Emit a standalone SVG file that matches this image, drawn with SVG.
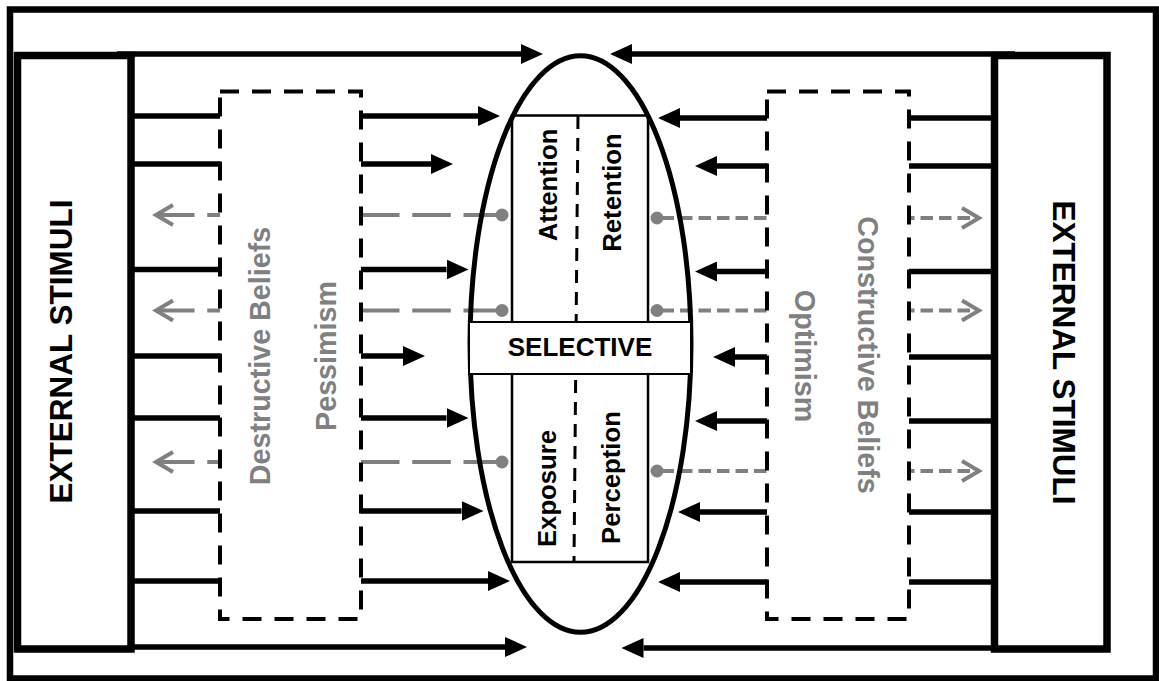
<svg xmlns="http://www.w3.org/2000/svg" width="1159" height="681" viewBox="0 0 1159 681">
  <style>
    .frame { fill: none; stroke: #000; stroke-width: 6.5; }
    .src { fill: #fff; stroke: #000; stroke-width: 7.5; }
    .belief { fill: #fff; stroke: #000; stroke-width: 4; stroke-dasharray: 19 13; }
    .stim { fill: none; stroke: #000; stroke-width: 5.5; marker-end: url(#head); }
    .back { fill: none; stroke: #808080; stroke-width: 4; marker-start: url(#dot); marker-end: url(#chev); }
    .back.l { stroke-dasharray: 38.5 12.75; }
    .back.r { stroke-dasharray: 12.5 6; stroke-dashoffset: 14; }
    .thin { fill: none; stroke: #000; stroke-width: 2.5; }
    .divider { fill: none; stroke: #000; stroke-width: 3; stroke-dasharray: 13 9; }
    .t { font-family: "Liberation Sans", Arial, sans-serif; font-weight: bold; text-anchor: middle; }
    .big { font-size: 31.5px; fill: #000; }
    .grey { font-size: 28.7px; fill: #808080; }
    .mid { font-size: 25.7px; fill: #000; }
  </style>
  <defs>
    <marker id="head" markerUnits="userSpaceOnUse" viewBox="0 -10 22 20" markerWidth="22" markerHeight="20" refX="0" refY="0" orient="auto">
      <path d="M0,-10 L22,0 L0,10 z" fill="#000"/>
    </marker>
    <marker id="chev" markerUnits="userSpaceOnUse" viewBox="-24 -14 30 28" markerWidth="30" markerHeight="28" refX="0" refY="0" orient="auto">
      <path d="M-17,-10 L0,0 L-17,10" fill="none" stroke="#808080" stroke-width="4"/>
    </marker>
    <marker id="dot" markerUnits="userSpaceOnUse" viewBox="-8 -8 16 16" markerWidth="16" markerHeight="16" refX="0" refY="0" orient="auto">
      <circle r="6.5" fill="#808080"/>
    </marker>
  </defs>

  <rect width="1159" height="681" fill="#fff"/>
  <rect class="frame" x="10" y="9.5" width="1146" height="669"/>

  <g id="connectors">
    <!-- stimuli arriving from the left -->
    <path class="stim" d="M117,54 H521"/>
    <path class="stim" d="M131,116 H478"/>
    <path class="stim" d="M131,164 H431"/>
    <path class="stim" d="M131,269.5 H446.5"/>
    <path class="stim" d="M131,356 H403"/>
    <path class="stim" d="M131,418 H446.5"/>
    <path class="stim" d="M131,511 H461.5"/>
    <path class="stim" d="M131,581 H488"/>
    <path class="stim" d="M131,647 H505"/>
    <!-- stimuli arriving from the right -->
    <path class="stim" d="M1015,54 H632"/>
    <path class="stim" d="M994.5,118 H680"/>
    <path class="stim" d="M994.5,166 H717"/>
    <path class="stim" d="M994.5,271.5 H717"/>
    <path class="stim" d="M994.5,357 H735"/>
    <path class="stim" d="M994.5,421 H717"/>
    <path class="stim" d="M994.5,512 H700"/>
    <path class="stim" d="M994.5,582 H680"/>
    <path class="stim" d="M994.5,648 H643.5"/>
    <!-- feedback toward the left -->
    <path class="back l" d="M502,215 H156"/>
    <path class="back l" d="M502,310.5 H156"/>
    <path class="back l" d="M502,462 H156"/>
    <!-- feedback toward the right -->
    <path class="back r" d="M657,218 H979"/>
    <path class="back r" d="M657,310.5 H979"/>
    <path class="back r" d="M657,471 H979"/>
  </g>

  <g id="stimuli-left">
    <rect class="src" x="17.5" y="55.5" width="113.5" height="593.5"/>
    <text class="t big" transform="translate(71.5,351.5) rotate(-90)">EXTERNAL STIMULI</text>
  </g>

  <g id="stimuli-right">
    <rect class="src" x="994.5" y="55.5" width="112.5" height="593.5"/>
    <text class="t big" transform="translate(1053,352.5) rotate(90)">EXTERNAL STIMULI</text>
  </g>

  <g id="destructive-beliefs">
    <rect class="belief" x="220" y="91.5" width="141" height="527.5"/>
    <text class="t grey" transform="translate(269.5,356) rotate(-90)">Destructive Beliefs</text>
    <text class="t grey" transform="translate(335.5,356) rotate(-90)">Pessimism</text>
  </g>

  <g id="constructive-beliefs">
    <rect class="belief" x="767" y="91.5" width="142" height="527.5"/>
    <text class="t grey" transform="translate(858,355) rotate(90)">Constructive Beliefs</text>
    <text class="t grey" transform="translate(794.5,356) rotate(90)">Optimism</text>
  </g>

  <g id="selective">
    <ellipse cx="580.5" cy="344" rx="110.5" ry="288.3" fill="none" stroke="#000" stroke-width="5"/>
    <rect class="thin" x="512" y="115.5" width="136" height="446.5"/>
    <path class="divider" d="M578,116 L574,562"/>
    <rect x="469" y="322" width="222" height="52" fill="#fff" stroke="#000" stroke-width="2"/>
    <text class="t" x="580" y="356" font-size="26" fill="#000">SELECTIVE</text>
    <text class="t mid" transform="translate(556.5,185) rotate(-90)">Attention</text>
    <text class="t mid" transform="translate(620.5,192.5) rotate(-90)">Retention</text>
    <text class="t mid" transform="translate(556,488.5) rotate(-90)">Exposure</text>
    <text class="t mid" transform="translate(620,477.5) rotate(-90)">Perception</text>
  </g>
</svg>
